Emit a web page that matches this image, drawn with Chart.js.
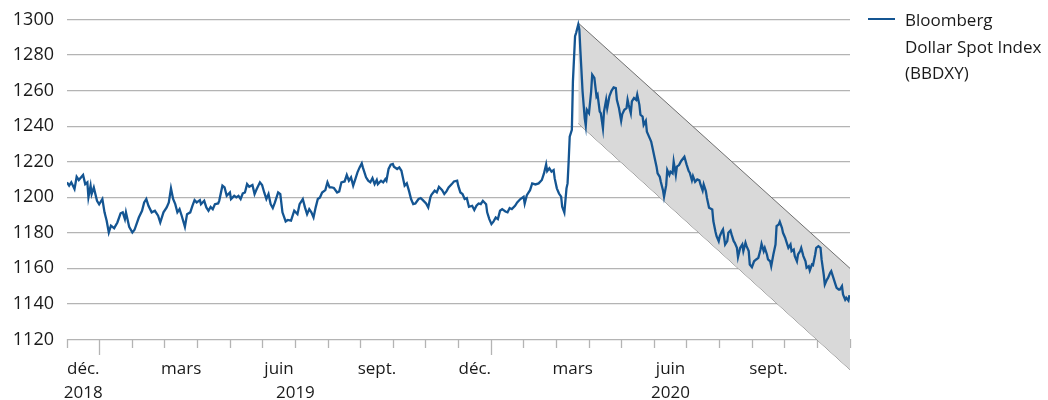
<!DOCTYPE html>
<html lang="fr">
<head>
<meta charset="utf-8">
<script src="https://cdn.jsdelivr.net/npm/chart.js@4.4.1/dist/chart.umd.min.js"></script>
<style>
  html, body { margin: 0; padding: 0; background: #fff; }
  #wrap { position: relative; width: 1048px; height: 400px; }
  #legend { position: absolute; left: 868px; top: 7px; font: 17px 'Open Sans', sans-serif; color: #1a1a1a; line-height: 26.5px; }
  #legend .swatch { position: absolute; left: 0; top: 11px; width: 27px; height: 2px; background: #145592; }
  #legend .text { margin-left: 37px; white-space: nowrap; }
</style>
</head>
<body>
<div id="wrap">
  <canvas id="chart" width="1048" height="400"></canvas>
  <div id="legend"><span class="swatch"></span><div class="text">Bloomberg<br>Dollar Spot Index<br>(BBDXY)</div></div>
</div>
<script>
const MONTH = 30.4375; // days per month on the axis (1 Dec 2018 = day 0)

const monthLabels = ['déc.', '', '', 'mars', '', '', 'juin', '', '', 'sept.', '', '',
                     'déc.', '', '', 'mars', '', '', 'juin', '', '', 'sept.', '', ''];
const yearLabels = ['2018', '2019', '2020'];
const yearCentres = [0.5, 7, 18.5]; // in months
const yTicks = [1120, 1140, 1160, 1180, 1200, 1220, 1240, 1260, 1280, 1300];

// days since 1 Dec 2018
const days = [
  0, 2, 4, 7, 9, 11, 15, 17, 19, 20, 22, 23, 25, 28, 30, 33, 35, 37, 39, 41, 44, 47, 50, 52, 54, 55, 58, 61, 63, 67,
  70, 72, 74, 76, 79, 82, 85, 87, 90, 93, 95, 97, 99, 101, 103, 105, 107, 110, 112, 115, 117, 119, 121, 124, 125, 128, 130, 132, 134, 136,
  138, 141, 142, 145, 147, 149, 152, 153, 156, 158, 160, 162, 164, 166, 168, 170, 173, 175, 177, 180, 182, 184, 186, 188, 190, 192, 194, 197, 199, 201,
  204, 206, 209, 212, 215, 217, 220, 222, 224, 226, 228, 230, 232, 234, 236, 238, 241, 243, 245, 247, 249, 252, 254, 256, 259, 261, 263, 265, 267, 269,
  271, 273, 275, 276, 279, 281, 283, 285, 287, 289, 290, 293, 295, 297, 298, 300, 302, 304, 305, 308, 310, 312, 314, 315, 317, 319, 321, 323, 325, 328,
  330, 332, 335, 337, 339, 340, 343, 345, 347, 350, 352, 354, 356, 359, 361, 364, 365, 367, 369, 371, 373, 375, 378, 380, 382, 384, 386, 388, 391, 392,
  394, 396, 398, 400, 402, 404, 406, 409, 411, 413, 415, 418, 420, 423, 426, 427, 429, 432, 434, 437, 440, 443, 445, 447, 448, 450, 452, 454, 455, 457,
  459, 461, 462, 464, 466, 467, 468, 469, 471, 472, 474, 475, 477, 478, 479, 481, 483, 484, 485, 487, 489, 490, 492, 494, 495, 497, 498, 500, 501, 503,
  504, 506, 508, 510, 512, 513, 515, 517, 518, 520, 522, 523, 524, 526, 527, 529, 531, 532, 534, 535, 537, 538, 540, 541, 543, 545, 546, 548, 550, 551,
  553, 554, 556, 557, 559, 560, 562, 563, 565, 566, 568, 569, 571, 573, 576, 578, 580, 581, 583, 584, 586, 588, 590, 591, 593, 594, 596, 597, 599, 602,
  603, 605, 606, 608, 609, 611, 612, 614, 616, 617, 619, 620, 622, 623, 625, 626, 628, 630, 631, 633, 634, 636, 637, 639, 641, 643, 645, 647, 648, 650,
  651, 653, 654, 656, 657, 659, 661, 662, 664, 665, 667, 668, 670, 671, 673, 675, 676, 678, 679, 681, 682, 684, 685, 687, 689, 690, 692, 693, 695, 696,
  698, 699, 701, 703, 704, 706, 707, 709, 710, 712, 713, 715, 717, 718, 720, 721, 723, 724, 726, 727, 729, 730
];
const bbdxy = [
  1208.4, 1206.5, 1208.4, 1204.6, 1211.5, 1209.7, 1212.5, 1207.4, 1208.4, 1200, 1206.5, 1201.8, 1205.5, 1198, 1196, 1199, 1191.5, 1186.8, 1180.2, 1184, 1182.6, 1185.8, 1191, 1191.5, 1187.7, 1191.5, 1183.4, 1180.2, 1181.7, 1188.6,
  1192.4, 1197.1, 1199, 1195.2, 1191.5, 1192.4, 1189.6, 1185.8, 1191.5, 1194.3, 1197.1, 1205, 1199, 1196.1, 1191.5, 1193.3, 1189.6, 1183.4, 1190.5, 1191.5, 1195.2, 1198.4, 1197.1, 1198.4, 1196.1, 1198, 1194.3, 1192.4, 1194.6, 1193.3,
  1196.1, 1196.5, 1198, 1206.5, 1205.5, 1200.8, 1202.7, 1199, 1200.8, 1199.9, 1200.8, 1199, 1202.2, 1202.7, 1207.4, 1205.9, 1206.9, 1201.8, 1204.6, 1208.4, 1206.9, 1202.7, 1199, 1201.8, 1196.1, 1193.9, 1197.1, 1202.7, 1201.8, 1191.5,
  1186.4, 1187.2, 1186.8, 1192.4, 1190.5, 1196.1, 1199, 1194.3, 1190.5, 1193.3, 1191.5, 1188.6, 1194.3, 1199, 1199.9, 1202.7, 1204, 1208.4, 1205.5, 1205.5, 1205.2, 1202.7, 1203.3, 1208.4, 1208.9, 1212.5, 1209.3, 1211.2, 1206.5, 1210.2,
  1214, 1216.8, 1219.1, 1216.8, 1211.2, 1209.3, 1208.4, 1210.8, 1207.4, 1209.7, 1207.4, 1209.3, 1208.4, 1210.2, 1209.3, 1215.9, 1218.3, 1218.7, 1217.2, 1215.9, 1216.8, 1214.9, 1209.3, 1206.5, 1207.8, 1203.7, 1199, 1196.1, 1196.5, 1199,
  1199.5, 1198.4, 1196.5, 1194.3, 1199.9, 1201.4, 1203.7, 1202.7, 1205.9, 1204, 1201.8, 1203.3, 1205.5, 1207.4, 1208.9, 1209.3, 1206.5, 1202.7, 1201.8, 1199, 1199.5, 1194.6, 1195.2, 1192.8, 1195.2, 1196.5, 1196.1, 1198, 1196.1, 1191.5,
  1187.7, 1184.9, 1186.4, 1188.6, 1187.7, 1192.4, 1193.3, 1192, 1191.5, 1193.9, 1193.3, 1195.2, 1197.1, 1199, 1200.3, 1196.5, 1201.2, 1204, 1207.8, 1207.2, 1207.8, 1209.7, 1213.4, 1218.5, 1214.7, 1216.3, 1214.4, 1215.3, 1210.6, 1205,
  1202.1, 1200.3, 1194.6, 1191.4, 1205, 1207.8, 1220, 1234.1, 1237.9, 1265.2, 1290.6, 1292.5, 1297.2, 1294.4, 1282.1, 1259.5, 1244.5, 1240.3, 1249.2, 1247.3, 1259.5, 1268.9, 1267.1, 1256.7, 1257.7, 1248.2, 1247.3, 1238.8, 1248.2, 1254.8,
  1250.1, 1256.7, 1259.9, 1261.8, 1261.4, 1254.8, 1250.1, 1243, 1246.7, 1249.2, 1250.1, 1254.8, 1252, 1247.3, 1253.9, 1255.8, 1254.8, 1257.7, 1252, 1246.4, 1245.4, 1240.7, 1243, 1236.9, 1234.1, 1231.3, 1228.5, 1222.8, 1217.2, 1213.4,
  1211.5, 1208.7, 1204, 1200.3, 1206.8, 1215.3, 1212.5, 1214.4, 1213.4, 1220, 1212.5, 1217.2, 1218.1, 1220.4, 1222.8, 1218.5, 1214.7, 1213.8, 1209.5, 1211.9, 1208.7, 1210, 1209.5, 1207.2, 1203.8, 1207.2, 1203.5, 1199.7, 1194.1, 1193.1,
  1186.6, 1180.6, 1178.1, 1175.3, 1178.1, 1180.9, 1181.9, 1173.4, 1175.3, 1180, 1181.3, 1179.1, 1175.3, 1174.4, 1171.5, 1166.3, 1171.5, 1173.4, 1169.7, 1174.4, 1172.5, 1169.7, 1162.2, 1160.7, 1164, 1165, 1165.9, 1170.6, 1173.8, 1169.7,
  1171.5, 1167.8, 1165, 1164, 1161.2, 1167.8, 1173.4, 1183.8, 1184.7, 1186.2, 1182.8, 1180, 1177.2, 1175.3, 1171.5, 1173.4, 1169.7, 1170.6, 1166.9, 1164, 1167.8, 1169.7, 1171.5, 1166.9, 1164, 1160.3, 1161.2, 1158.8, 1162.2, 1161.8,
  1167.8, 1171.5, 1172.5, 1171.5, 1165, 1156.5, 1150.9, 1153.7, 1154.6, 1157.5, 1158.4, 1154.6, 1150.9, 1149, 1148.1, 1148.1, 1150, 1145.3, 1142.4, 1143.4, 1141.9, 1144.9
];

// downward channel since the March 2020 peak
const channelDays = [477, 730.5];
const channelUpper = [1298, 1160];
const channelLower = [1241.5, 1103];

const font = { family: "'Open Sans', sans-serif", size: 17 };
const textColor = '#1a1a1a';
const gridColor = '#b4b4b4';

new Chart(document.getElementById('chart'), {
  type: 'line',
  data: {
    datasets: [
      {
        label: 'Bloomberg Dollar Spot Index (BBDXY)',
        data: days.map((d, i) => ({ x: d, y: bbdxy[i] })),
        borderColor: '#145592',
        borderWidth: 2.3,
        pointRadius: 0,
        fill: false
      },
      {
        label: 'upper',
        data: channelDays.map((d, i) => ({ x: d, y: channelUpper[i] })),
        borderColor: '#707070',
        borderWidth: 1,
        pointRadius: 0,
        backgroundColor: '#d9d9d9',
        fill: '+1'
      },
      {
        label: 'lower',
        data: channelDays.map((d, i) => ({ x: d, y: channelLower[i] })),
        borderColor: '#707070',
        borderWidth: 1,
        pointRadius: 0,
        fill: false
      }
    ]
  },
  options: {
    responsive: false,
    animation: false,
    events: [],
    layout: { padding: { top: 19.5, right: 198, bottom: 25, left: 0 } },
    plugins: { legend: { display: false }, tooltip: { enabled: false } },
    scales: {
      y: {
        min: 1100,
        max: 1300,
        afterBuildTicks: s => { s.ticks = yTicks.map(v => ({ value: v })); },
        afterFit: s => { s.width = 67; s.paddingTop = 0; s.paddingBottom = 0; },
        border: { display: false },
        grid: { color: gridColor, lineWidth: 1.3, drawTicks: false },
        ticks: {
          padding: 13, color: textColor, font: { family: font.family, size: 18 },
          callback: v => String(v)
        }
      },
      x: {
        type: 'linear',
        position: { y: 1120 },
        min: 0,
        max: 24 * MONTH,
        afterBuildTicks: s => { s.ticks = monthLabels.map((_, i) => ({ value: (i + 0.5) * MONTH })); },
        border: { display: false },
        grid: {
          offset: true,
          drawOnChartArea: false,
          tickLength: 16,
          tickColor: gridColor,
          tickWidth: 1.3,
          tickBorderDash: c => (c.index === 1 || c.index === 13) ? [] : [9, 40]
        },
        ticks: {
          autoSkip: false, maxRotation: 0, minRotation: 0, padding: 4,
          color: textColor, font,
          callback: (v, i) => monthLabels[i]
        }
      },
      xYear: {
        type: 'linear',
        position: { y: 1120 },
        min: 0,
        max: 24 * MONTH,
        afterBuildTicks: s => { s.ticks = yearCentres.map(m => ({ value: m * MONTH })); },
        border: { display: false },
        grid: { display: false, drawTicks: false },
        ticks: {
          autoSkip: false, maxRotation: 0, minRotation: 0, padding: 44,
          color: textColor, font,
          callback: (v, i) => yearLabels[i]
        }
      }
    }
  }
});
</script>
</body>
</html>
